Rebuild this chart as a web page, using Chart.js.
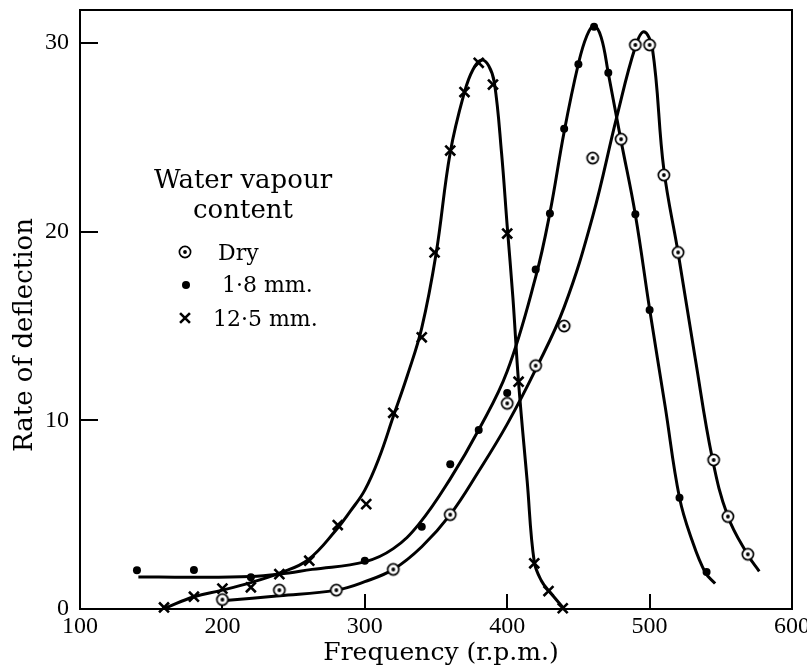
<!DOCTYPE html>
<html>
<head>
<meta charset="utf-8">
<script src="https://cdn.jsdelivr.net/npm/chart.js@4"></script>
<style>
  html, body { margin: 0; padding: 0; background: #fff; }
</style>
</head>
<body>
<canvas id="myChart" width="807" height="670"></canvas>
<script>
// axis ticks
const xTicks = [100, 200, 300, 400, 500, 600];
const yTicks = [0, 10, 20, 30];

// readings (markers)
const dryX = [200, 240, 280, 320, 360, 400, 420, 440, 460, 480, 490, 500, 510, 520, 545, 555, 569];
const dryY = [0.5, 1.0, 1.0, 2.1, 5.0, 10.9, 12.9, 15.0, 23.9, 24.9, 29.9, 29.9, 23.0, 18.9, 7.9, 4.9, 2.9];

const mmX = [140, 180, 220, 300, 340, 360, 380, 400, 420, 430, 440, 450, 461, 471, 490, 500, 521, 540];
const mmY = [2.05, 2.07, 1.68, 2.56, 4.36, 7.67, 9.49, 11.45, 18.0, 20.97, 25.45, 28.88, 30.86, 28.42, 20.93, 15.85, 5.9, 1.96];

const wetX = [159, 180, 200, 220, 240, 261, 281, 301, 320, 340, 349, 360, 370, 380, 390, 400, 408, 419, 429, 439];
const wetY = [0.08, 0.65, 1.08, 1.15, 1.85, 2.56, 4.45, 5.56, 10.4, 14.4, 18.9, 24.3, 27.4, 28.95, 27.8, 19.9, 12.05, 2.42, 0.95, 0.04];

// hand-drawn curves
const dryCurveX = [202, 240, 280, 300, 320, 340, 360, 380, 400, 420, 440, 460, 477, 490, 496, 502, 510, 520, 532, 544, 555, 569, 577];
const dryCurveY = [0.45, 0.7, 1.0, 1.45, 2.1, 3.3, 5.0, 7.3, 9.8, 12.7, 16.0, 20.8, 26.1, 29.8, 30.6, 29.7, 23.3, 18.9, 13.3, 8.0, 4.9, 2.86, 2.0];

const mmCurveX = [141, 180, 220, 240, 263, 300, 320, 338, 360, 380, 400, 420, 430, 440, 450, 456, 461, 466, 471, 480, 490, 500, 511, 521, 530, 539, 546];
const mmCurveY = [1.7, 1.68, 1.72, 1.85, 2.1, 2.5, 3.2, 4.5, 6.9, 9.5, 12.6, 17.6, 21.0, 25.3, 28.9, 30.4, 30.9, 30.3, 28.4, 24.8, 20.9, 15.9, 10.7, 5.9, 3.6, 1.95, 1.35];

const wetCurveX = [160, 180, 200, 220, 240, 260, 280, 290, 300, 310, 320, 330, 340, 350, 360, 370, 376, 382, 387, 391, 396, 400, 404, 408, 414, 419, 424, 430, 440];
const wetCurveY = [0.05, 0.65, 1.0, 1.4, 1.9, 2.6, 4.2, 5.2, 6.3, 8.0, 10.2, 12.4, 14.9, 18.8, 24.2, 27.4, 28.6, 29.1, 28.8, 27.9, 24.2, 20.3, 16.5, 12.0, 6.8, 2.5, 1.5, 0.9, 0.0];

const legendTitle = ['Water vapour', 'content'];
const seriesNames = ['Dry', '1·8 mm.', '12·5 mm.'];
const xTitle = 'Frequency (r.p.m.)';
const yTitle = 'Rate of deflection';

const pairs = (xs, ys) => xs.map((x, i) => ({x: x, y: ys[i]}));

// ring with a dot inside, for the dry readings
const ring = document.createElement('canvas');
ring.width = 16; ring.height = 16;
(function () {
    const c = ring.getContext('2d');
    c.fillStyle = '#fff';
    c.strokeStyle = '#000';
    c.lineWidth = 1.7;
    c.beginPath(); c.arc(8, 8, 5.6, 0, Math.PI * 2); c.fill(); c.stroke();
    c.fillStyle = '#000';
    c.beginPath(); c.arc(8, 8, 1.9, 0, Math.PI * 2); c.fill();
})();

function drawCross(ctx, x, y, r) {
    ctx.save();
    ctx.strokeStyle = '#000';
    ctx.lineWidth = 2.6;
    const d = r * Math.SQRT1_2;
    ctx.beginPath();
    ctx.moveTo(x - d, y - d); ctx.lineTo(x + d, y + d);
    ctx.moveTo(x - d, y + d); ctx.lineTo(x + d, y - d);
    ctx.stroke();
    ctx.restore();
}

// frame, inward ticks, axis titles and the inset legend
const decor = {
    id: 'decor',
    beforeDatasetsDraw(chart) {
        const ctx = chart.ctx, a = chart.chartArea;
        const xs = chart.scales.x, ys = chart.scales.y;
        ctx.save();
        ctx.strokeStyle = '#000';
        ctx.lineWidth = 2;
        ctx.strokeRect(a.left, a.top, a.right - a.left, a.bottom - a.top);
        ctx.beginPath();
        yTicks.forEach(v => {
            if (v === 0) return;
            const py = Math.round(ys.getPixelForValue(v));
            ctx.moveTo(a.left, py); ctx.lineTo(a.left + 18, py);
        });
        xTicks.forEach(v => {
            if (v === xs.min || v === xs.max) return;
            const px = Math.round(xs.getPixelForValue(v));
            ctx.moveTo(px, a.bottom); ctx.lineTo(px, a.bottom - 15);
        });
        ctx.stroke();
        ctx.restore();
    },
    afterDraw(chart) {
        const ctx = chart.ctx;
        ctx.save();
        ctx.fillStyle = '#000';
        ctx.textBaseline = 'alphabetic';

        ctx.font = '25px "DejaVu Serif"';
        ctx.textAlign = 'center';
        ctx.fillText(xTitle, 441, 660);
        ctx.save();
        ctx.translate(32, 335);
        ctx.rotate(-Math.PI / 2);
        ctx.font = '26px "DejaVu Serif"';
        ctx.fillText(yTitle, 0, 0);
        ctx.restore();

        ctx.font = '26px "DejaVu Serif"';
        ctx.fillText(legendTitle[0], 243, 188);
        ctx.fillText(legendTitle[1], 243, 218);

        ctx.textAlign = 'left';
        ctx.font = '22px "DejaVu Serif"';
        ctx.fillText(seriesNames[0], 218, 260);
        ctx.fillText(seriesNames[1], 222, 292);
        ctx.fillText(seriesNames[2], 213, 326);

        ctx.drawImage(ring, 185 - 8, 252 - 8);
        ctx.beginPath(); ctx.arc(186, 285, 4, 0, Math.PI * 2); ctx.fill();
        drawCross(ctx, 185, 318, 7);
        ctx.restore();
    }
};

const curve = (xs, ys) => ({
    data: pairs(xs, ys),
    showLine: true,
    borderColor: '#000',
    borderWidth: 3,
    pointRadius: 0,
    tension: 0.4,
    order: 2
});

var ctx = document.getElementById('myChart').getContext('2d');
var chart = new Chart(ctx, {
    type: 'scatter',
    data: {
        datasets: [
            {
                label: seriesNames[0],
                data: pairs(dryX, dryY),
                pointStyle: ring,
                pointRadius: 6,
                clip: false,
                order: 1
            },
            {
                label: seriesNames[1],
                data: pairs(mmX, mmY),
                pointStyle: 'circle',
                pointRadius: 4,
                backgroundColor: '#000',
                borderColor: '#000',
                borderWidth: 0,
                clip: false,
                order: 1
            },
            {
                label: seriesNames[2],
                data: pairs(wetX, wetY),
                pointStyle: 'crossRot',
                pointRadius: 7,
                borderColor: '#000',
                borderWidth: 2.6,
                clip: false,
                order: 1
            },
            curve(dryCurveX, dryCurveY),
            curve(mmCurveX, mmCurveY),
            curve(wetCurveX, wetCurveY)
        ]
    },
    options: {
        responsive: false,
        animation: false,
        devicePixelRatio: 1,
        layout: { padding: { top: 10, right: 15, left: 0, bottom: 0 } },
        plugins: {
            legend: { display: false },
            tooltip: { enabled: false }
        },
        scales: {
            x: {
                type: 'linear',
                min: 100,
                max: 600,
                afterBuildTicks: s => { s.ticks = xTicks.map(v => ({value: v})); },
                afterFit: s => { s.height = 61; s.paddingLeft = 0; s.paddingRight = 0; },
                grid: { display: false, drawTicks: false },
                border: { display: false },
                ticks: {
                    color: '#000',
                    padding: 3,
                    maxRotation: 0,
                    font: { family: 'Liberation Serif', size: 24 }
                }
            },
            y: {
                type: 'linear',
                min: 0,
                max: 31.75,
                afterBuildTicks: s => { s.ticks = yTicks.map(v => ({value: v})); },
                afterFit: s => { s.width = 80; s.paddingTop = 0; s.paddingBottom = 0; },
                grid: { display: false, drawTicks: false },
                border: { display: false },
                ticks: {
                    color: '#000',
                    padding: 11,
                    font: { family: 'Liberation Serif', size: 24 }
                }
            }
        }
    },
    plugins: [decor]
});
</script>
</body>
</html>
